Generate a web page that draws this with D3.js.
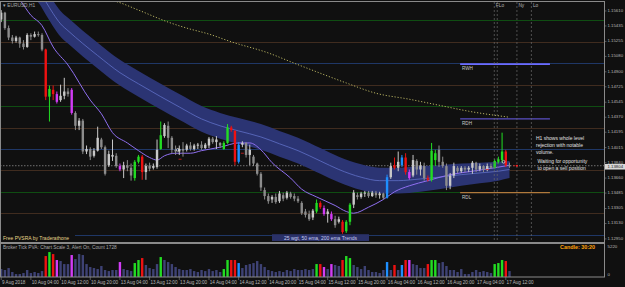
<!DOCTYPE html>
<html>
<head>
<meta charset="utf-8">
<title>EURUSD,H1 PVSRA</title>
<script src="https://cdn.jsdelivr.net/npm/d3@7"></script>
<style>
body { margin: 0; background: #101010; }
svg { display: block; }
text { font-family: "Liberation Sans", Arial, sans-serif; }
</style>
</head>
<body>
<svg width="625" height="287"></svg>
<script>

// H1 bars, 9 Aug 2018 20:00 .. 17 Aug 13:00
var open = [
  1.1551,1.1559,1.1541,1.1530,1.1526,1.1530,1.1523,1.1519,1.1533,1.1531,
  1.1534,1.1533,1.1516,1.1461,1.1469,1.1464,1.1457,1.1462,1.1467,1.1469,
  1.1442,1.1427,1.1433,1.1397,1.1400,1.1392,1.1398,1.1411,1.1402,1.1381,
  1.1391,1.1392,1.1380,1.1376,1.1381,1.1378,1.1366,1.1385,1.1391,1.1373,
  1.1380,1.1378,1.1379,1.1400,1.1415,1.1427,1.1413,1.1399,1.1397,1.1400,
  1.1399,1.1404,1.1400,1.1404,1.1405,1.1401,1.1404,1.1412,1.1408,1.1407,
  1.1400,1.1407,1.1425,1.1421,1.1385,1.1405,1.1407,1.1393,1.1391,1.1383,
  1.1371,1.1352,1.1345,1.1341,1.1344,1.1339,1.1346,1.1343,1.1348,1.1345,
  1.1342,1.1337,1.1327,1.1324,1.1320,1.1327,1.1337,1.1331,1.1324,1.1324,
  1.1318,1.1315,1.1315,1.1304,1.1315,1.1335,1.1346,1.1344,1.1348,1.1349,
  1.1345,1.1349,1.1346,1.1348,1.1343,1.1367,1.1381,1.1378,1.1381,1.1390,
  1.1373,1.1369,1.1386,1.1376,1.1380,1.1366,1.1364,1.1387,1.1399,1.1385,
  1.1380,1.1357,1.1369,1.1378,1.1374,1.1378,1.1376,1.1378,1.1384,1.1376,
  1.1380,1.1376,1.1380,1.1378,1.1385,1.1387,1.1397,1.1381];
var high = [
  1.1562,1.1560,1.1544,1.1533,1.1532,1.1531,1.1527,1.1535,1.1535,1.1537,
  1.1537,1.1535,1.1517,1.1474,1.1474,1.1467,1.1475,1.1483,1.1471,1.1471,
  1.1444,1.1436,1.1435,1.1404,1.1402,1.1401,1.1426,1.1413,1.1404,1.1398,
  1.1411,1.1395,1.1383,1.1385,1.1387,1.1383,1.1387,1.1393,1.1393,1.1383,
  1.1384,1.1383,1.1411,1.1432,1.1430,1.1432,1.1415,1.1404,1.1404,1.1408,
  1.1406,1.1408,1.1406,1.1407,1.1409,1.1407,1.1414,1.1414,1.1415,1.1408,
  1.1409,1.1429,1.1427,1.1422,1.1408,1.1409,1.1408,1.1405,1.1393,1.1384,
  1.1373,1.1355,1.1348,1.1346,1.1348,1.1351,1.1349,1.1351,1.1350,1.1348,
  1.1345,1.1339,1.1330,1.1328,1.1330,1.1341,1.1339,1.1334,1.1330,1.1327,
  1.1322,1.1321,1.1317,1.1317,1.1337,1.1352,1.1349,1.1350,1.1351,1.1351,
  1.1351,1.1351,1.1350,1.1349,1.1370,1.1384,1.1390,1.1397,1.1393,1.1395,
  1.1376,1.1393,1.1388,1.1385,1.1384,1.1369,1.1407,1.1399,1.1404,1.1391,
  1.1383,1.1372,1.1384,1.1380,1.1380,1.1380,1.1380,1.1386,1.1385,1.1383,
  1.1381,1.1383,1.1383,1.1388,1.1391,1.1419,1.1399,1.1384];
var low = [
  1.1548,1.1539,1.1527,1.1523,1.1524,1.1518,1.1516,1.1518,1.1527,1.1530,
  1.1531,1.1514,1.1457,1.1432,1.1457,1.1453,1.1455,1.1458,1.1461,1.1440,
  1.1422,1.1422,1.1394,1.1394,1.1387,1.1390,1.1397,1.1400,1.1369,1.1379,
  1.1386,1.1378,1.1374,1.1366,1.1374,1.1363,1.1363,1.1383,1.1364,1.1364,
  1.1374,1.1376,1.1377,1.1399,1.1413,1.1401,1.1395,1.1393,1.1393,1.1391,
  1.1397,1.1398,1.1398,1.1400,1.1399,1.1400,1.1401,1.1406,1.1400,1.1401,
  1.1399,1.1406,1.1420,1.1381,1.1383,1.1402,1.1390,1.1381,1.1380,1.1369,
  1.1351,1.1341,1.1336,1.1337,1.1336,1.1337,1.1339,1.1341,1.1342,1.1339,
  1.1337,1.1323,1.1320,1.1316,1.1317,1.1325,1.1330,1.1322,1.1314,1.1316,
  1.1308,1.1313,1.1301,1.1302,1.1311,1.1331,1.1341,1.1342,1.1344,1.1343,
  1.1344,1.1343,1.1342,1.1341,1.1342,1.1365,1.1376,1.1374,1.1379,1.1370,
  1.1364,1.1367,1.1370,1.1369,1.1363,1.1362,1.1362,1.1380,1.1379,1.1378,
  1.1352,1.1353,1.1366,1.1372,1.1372,1.1373,1.1373,1.1371,1.1373,1.1374,
  1.1373,1.1374,1.1377,1.1377,1.1383,1.1384,1.1379,1.1378];
var close = [
  1.1559,1.1541,1.1530,1.1526,1.1530,1.1523,1.1519,1.1533,1.1531,1.1534,
  1.1533,1.1516,1.1461,1.1470,1.1464,1.1455,1.1462,1.1467,1.1464,1.1442,
  1.1427,1.1433,1.1397,1.1400,1.1391,1.1398,1.1413,1.1402,1.1371,1.1394,
  1.1393,1.1380,1.1376,1.1381,1.1378,1.1369,1.1385,1.1391,1.1373,1.1380,
  1.1377,1.1380,1.1399,1.1416,1.1428,1.1413,1.1399,1.1397,1.1400,1.1398,
  1.1404,1.1400,1.1404,1.1405,1.1401,1.1405,1.1412,1.1408,1.1411,1.1404,
  1.1407,1.1425,1.1422,1.1385,1.1405,1.1407,1.1393,1.1399,1.1383,1.1371,
  1.1355,1.1345,1.1339,1.1344,1.1338,1.1348,1.1342,1.1349,1.1344,1.1342,
  1.1339,1.1325,1.1323,1.1318,1.1328,1.1337,1.1332,1.1324,1.1327,1.1318,
  1.1311,1.1318,1.1303,1.1315,1.1335,1.1349,1.1344,1.1348,1.1349,1.1345,
  1.1349,1.1346,1.1348,1.1343,1.1367,1.1380,1.1378,1.1385,1.1390,1.1373,
  1.1366,1.1387,1.1376,1.1381,1.1366,1.1364,1.1398,1.1395,1.1385,1.1380,
  1.1357,1.1369,1.1380,1.1374,1.1378,1.1376,1.1378,1.1384,1.1376,1.1380,
  1.1376,1.1380,1.1378,1.1386,1.1388,1.1397,1.1381,1.13804];
var volume = [
  1350,1180,1510,840,500,500,670,1180,670,840,
  670,1000,3530,4200,3860,2860,2690,2180,2180,3700,
  3020,3860,3700,2180,1680,1510,1340,1850,1180,1000,
  1180,1180,2520,1340,1180,1000,2350,2860,3190,2020,
  1510,1340,2180,3360,2860,2520,2180,1680,1340,1180,
  1180,1340,1000,840,1180,1000,1340,1000,1180,840,
  1340,2860,2860,2860,2350,1510,2020,2180,2350,2690,
  2180,1680,1180,1000,840,1000,840,1180,1000,1340,
  1180,1180,1340,1180,1340,2180,2180,1680,1340,2180,
  2020,1850,2860,3530,3190,2020,1680,1340,1850,1180,
  840,840,670,1180,2520,1180,2020,1180,2020,2860,
  2860,2180,2020,1510,1510,2180,2860,2860,2350,2520,
  1850,1180,1180,840,1340,500,500,840,1180,840,
  1000,840,670,2180,2350,2860,2690,1000];

// PVSRA bar classes (bar indexes)
var climaxBull = [13,36,37,43,60,61,85,93,94,116,117,133,134,135];
var climaxBear = [12,14,38,62,63,86,92,106,109,115,136];
var risingBull = [64,104,108];
var risingBear = [15,19,32,87,89,110];

// trend lines, sampled at bar indexes
var wgtBars = [3,5,8,11,14,18,24,27,30,34,37,40,42,44,47,51,54,59,64,67,70,73,78,81,85,90,93,95,99,103,106,110,115,121,127,133,137];
var wgt25 = [1.1583,1.1574,1.1556,1.1544,1.1519,1.1498,1.1457,1.1441,1.1419,1.1407,1.1398,1.1390,1.1387,1.1392,1.1395,1.1395,1.1398,1.1402,1.1407,1.1407,1.1399,1.1384,1.1366,1.1353,1.1344,1.1334,1.1327,1.1325,1.1332,1.1341,1.1350,1.1357,1.1363,1.1370,1.1374,1.1378,1.1381];
var emaBars = [8,10,12,14,16,18,22,26,32,37,43,48,54,59,64,70,75,80,86,91,97,102,107,113,118,124,129,134,137];
var ema50 = [1.1592,1.1586,1.1572,1.1558,1.1546,1.1538,1.1523,1.1509,1.1489,1.1476,1.1461,1.1449,1.1435,1.1427,1.1421,1.1414,1.1406,1.1398,1.1386,1.1376,1.1367,1.1363,1.1363,1.1365,1.1367,1.1370,1.1372,1.1374,1.1376];
var emaBand = [0.0015,0.0015,0.0015,0.0015,0.0015,0.0015,0.0015,0.0015,0.0015,0.0015,0.0015,0.0015,0.0015,0.0015,0.0015,0.0015,0.0015,0.0015,0.0015,0.0015,0.0015,0.0015,0.0015,0.0015,0.0014,0.0013,0.0012,0.0011,0.0010];
var slowBars = [28,31,37,45,50,56,62,72,79,85,93,101,110,118,126,137];
var ema200 = [1.1575,1.1572,1.1562,1.1548,1.1541,1.1534,1.1525,1.1512,1.1500,1.1490,1.1477,1.1465,1.1458,1.1451,1.1444,1.1437];

var priceTicks = [1.15610,1.15435,1.15255,1.15080,1.14900,1.14725,1.14545,1.14370,1.14195,1.14015,1.13840,1.13660,1.13485,1.13305,1.13130,1.12950];
var quarterLevels = [1.1550,1.1525,1.1500,1.1475,1.1450,1.1425,1.1400,1.1375,1.1350,1.1325,1.1300];
var timeLabels = ["9 Aug 2018","10 Aug 04:00","10 Aug 12:00","10 Aug 20:00","13 Aug 04:00","13 Aug 12:00","13 Aug 20:00","14 Aug 04:00","14 Aug 12:00","14 Aug 20:00","15 Aug 04:00","15 Aug 12:00","15 Aug 20:00","16 Aug 04:00","16 Aug 12:00","16 Aug 20:00","17 Aug 04:00","17 Aug 12:00"];

var rangeNames = ["RWH","RDH","RDL"];
var rangePrices = [1.1499,1.1435,1.1349];
var sessionBars = [132.9,133.7,139.0,142.9];
var sessionNames = ["F","Lo","Ny","Lo"];

var svg = d3.select("svg");

var x = d3.scaleLinear().domain([0, 137]).range([1.2, 509.5]);
var y = d3.scaleLinear().domain([1.12914, 1.15738]).range([242, 0]);
var yv = d3.scaleLinear().domain([0, 5220]).range([277, 246]);

function kind(i) {
  if (climaxBull.indexOf(i) >= 0) return "g";
  if (climaxBear.indexOf(i) >= 0) return "r";
  if (risingBull.indexOf(i) >= 0) return "b";
  if (risingBear.indexOf(i) >= 0) return "m";
  return "n";
}
var colors = { g: "#22dd22", r: "#ee1111", b: "#1e8fff", m: "#d23cf5" };

var bars = d3.range(open.length).map(function(i) {
  return { i: i, o: open[i], h: high[i], l: low[i], c: close[i], v: volume[i], k: kind(i) };
});
function candleColor(d) {
  if (d.k != "n") return colors[d.k];
  return d.c >= d.o ? "#c8c8c8" : "#8c8c8c";
}

svg.append("rect").attr("width", 625).attr("height", 287).attr("fill", "#101010");

svg.append("clipPath").attr("id", "mainClip")
  .append("rect").attr("x", 0).attr("y", 2).attr("width", 604).attr("height", 240);
var main = svg.append("g").attr("clip-path", "url(#mainClip)");

// quarter levels
main.selectAll(".ql").data(quarterLevels).enter().append("line")
  .attr("x1", 0).attr("x2", 604)
  .attr("y1", function(d) { return Math.round(y(d)) + 0.5; })
  .attr("y2", function(d) { return Math.round(y(d)) + 0.5; })
  .attr("stroke", function(d) {
    var r = Math.round(d * 10000) % 100;
    return r == 0 ? "#1f3766" : (r == 50 ? "#0f4d12" : "#402c1f");
  })
  .attr("stroke-width", 1);

// current price line
var last = close[close.length - 1];
main.append("line")
  .attr("x1", 0).attr("x2", 604)
  .attr("y1", y(last)).attr("y2", y(last))
  .attr("stroke", "#8a8a8a").attr("stroke-width", 0.8)
  .attr("stroke-dasharray", "1.5,1.5");

// ema band
var band = emaBars.map(function(b, k) { return { b: b, mid: ema50[k], h: emaBand[k] }; });
main.append("path").datum(band)
  .attr("fill", "#2b3473")
  .attr("d", d3.area()
    .x(function(d) { return x(d.b); })
    .y0(function(d) { return y(d.mid - d.h); })
    .y1(function(d) { return y(d.mid + d.h); })
    .curve(d3.curveMonotoneX));
main.append("path").datum(band)
  .attr("fill", "none").attr("stroke", "#5f70c8").attr("stroke-width", 0.8)
  .attr("d", d3.line()
    .x(function(d) { return x(d.b); })
    .y(function(d) { return y(d.mid); })
    .curve(d3.curveMonotoneX));

// 200 ema dotted
main.append("path").datum(slowBars.map(function(b, k) { return [b, ema200[k]]; }))
  .attr("fill", "none").attr("stroke", "#b5b060").attr("stroke-width", 1)
  .attr("stroke-dasharray", "1.2,1.8")
  .attr("d", d3.line()
    .x(function(d) { return x(d[0]); })
    .y(function(d) { return y(d[1]); })
    .curve(d3.curveMonotoneX));

// 25 wgt line
main.append("path").datum(wgtBars.map(function(b, k) { return [b, wgt25[k]]; }))
  .attr("fill", "none").attr("stroke", "#8f6ff0").attr("stroke-width", 1)
  .attr("d", d3.line()
    .x(function(d) { return x(d[0]); })
    .y(function(d) { return y(d[1]); })
    .curve(d3.curveMonotoneX));

// candles
main.selectAll(".wick").data(bars).enter().append("rect")
  .attr("x", function(d) { return x(d.i) - 0.5; })
  .attr("y", function(d) { return y(d.h); })
  .attr("width", 1)
  .attr("height", function(d) { return Math.max(1, y(d.l) - y(d.h)); })
  .attr("fill", candleColor);
main.selectAll(".body").data(bars).enter().append("rect")
  .attr("x", function(d) { return x(d.i) - 1.2; })
  .attr("y", function(d) { return y(Math.max(d.o, d.c)); })
  .attr("width", 2.4)
  .attr("height", function(d) { return Math.max(1, Math.abs(y(d.o) - y(d.c))); })
  .attr("fill", candleColor);

// range lines
var rangeColors = ["#6b6bff", "#5a4fc4", "#b07a3c"];
rangeNames.forEach(function(n, k) {
  var yy = y(rangePrices[k]);
  main.append("line")
    .attr("x1", x(123.7)).attr("x2", x(147.9))
    .attr("y1", yy).attr("y2", yy)
    .attr("stroke", rangeColors[k]).attr("stroke-width", k == 0 ? 1.6 : 1.2);
  main.append("text")
    .attr("x", x(124.2)).attr("y", yy + 6)
    .attr("font-size", 4.6).attr("fill", "#c8c8c8").text(n);
});

// session lines
sessionBars.forEach(function(b, k) {
  main.append("line")
    .attr("x1", x(b)).attr("x2", x(b))
    .attr("y1", 2).attr("y2", 242)
    .attr("stroke", "#6a6a6a").attr("stroke-width", 0.7)
    .attr("stroke-dasharray", "2,2");
  main.append("text")
    .attr("x", x(b) + 1.5).attr("y", 7)
    .attr("font-size", 4.8).attr("fill", "#b0b0b0").text(sessionNames[k]);
});

// markers
main.append("circle").attr("cx", x(47.6)).attr("cy", y(1.1399)).attr("r", 1.4)
  .attr("fill", "none").attr("stroke", "#e0e0e0").attr("stroke-width", 0.7);
main.append("circle").attr("cx", x(135.4)).attr("cy", y(1.1385)).attr("r", 1.4)
  .attr("fill", "none").attr("stroke", "#e0e0e0").attr("stroke-width", 0.7);
[[48.2, 1.1388], [65, 1.1395], [131, 1.1376]].forEach(function(m) {
  main.append("line").attr("x1", x(m[0]) - 1.5).attr("x2", x(m[0]) + 1.5)
    .attr("y1", y(m[1])).attr("y2", y(m[1]))
    .attr("stroke", "#dd2222").attr("stroke-width", 0.8);
});
main.append("line").attr("x1", x(138)).attr("x2", x(138.6))
  .attr("y1", y(last)).attr("y2", y(last)).attr("stroke", "#dd2222").attr("stroke-width", 0.8);
main.append("circle").attr("cx", x(139)).attr("cy", y(last)).attr("r", 1.1).attr("fill", "#ff2020");

// notes
var note1 = ["H1 shows whole level", "rejection with notable", "volume."];
var note2 = ["Waiting for opportunity", "to open a sell position"];
note1.forEach(function(t, k) {
  main.append("text").attr("x", 536).attr("y", 139.5 + k * 7)
    .attr("font-size", 5).attr("fill", "#e0e0e0").text(t);
});
note2.forEach(function(t, k) {
  main.append("text").attr("x", 537.5).attr("y", 162.8 + k * 6.8)
    .attr("font-size", 5).attr("fill", "#e0e0e0").text(t);
});

// labels inside main
main.append("text").attr("x", 3).attr("y", 7).attr("font-size", 4.8)
  .attr("fill", "#a8a8a8").text("\u25BE EURUSD,H1");
main.append("rect").attr("x", 1).attr("y", 234.5).attr("width", 74).attr("height", 6.5).attr("fill", "#101010");
main.append("text").attr("x", 3).attr("y", 239.6).attr("font-size", 5)
  .attr("fill", "#e6d78a").text("Free PVSRA by Traderathone");
main.append("rect").attr("x", 272).attr("y", 234.2).attr("width", 97).attr("height", 6.8).attr("fill", "#2a3168");
main.append("text").attr("x", 320.5).attr("y", 239.5).attr("font-size", 5)
  .attr("text-anchor", "middle").attr("fill", "#c8ccf0").text("25 wgt, 50 ema, 200 ema Trends");

// volume panel
svg.selectAll(".vol").data(bars).enter().append("rect")
  .attr("x", function(d) { return x(d.i) - 1.2; })
  .attr("y", function(d) { return yv(d.v); })
  .attr("width", 2.4)
  .attr("height", function(d) { return yv(0) - yv(d.v); })
  .attr("fill", function(d) { return d.k == "n" ? "#3e4274" : colors[d.k]; });
svg.append("text").attr("x", 3).attr("y", 249).attr("font-size", 4.8)
  .attr("fill", "#a8a8a8").text("Broker Tick PVA:  Chart Scale 3,  Alert On,  Count  1728");
svg.append("text").attr("x", 560).attr("y", 249.2).attr("font-size", 5.4)
  .attr("font-weight", "bold").attr("fill", "#ffa20a").text("Candle:  30:20");

// frames
svg.append("rect").attr("x", 0.5).attr("y", 1.5).attr("width", 604).attr("height", 241)
  .attr("fill", "none").attr("stroke", "#8a8a8a").attr("stroke-width", 1);
svg.append("rect").attr("x", 0.5).attr("y", 243.5).attr("width", 604).attr("height", 33.5)
  .attr("fill", "none").attr("stroke", "#8a8a8a").attr("stroke-width", 1);

// price axis
var axis = svg.append("g");
priceTicks.forEach(function(p) {
  axis.append("line").attr("x1", 604.5).attr("x2", 606.5)
    .attr("y1", y(p)).attr("y2", y(p)).attr("stroke", "#8a8a8a").attr("stroke-width", 0.6);
  axis.append("text").attr("x", 607.5).attr("y", y(p) + 1.0)
    .attr("font-size", 4.3).attr("fill", "#b8b8b8").text(d3.format(".5f")(p));
});
axis.append("rect").attr("x", 605).attr("y", y(last) - 1.8).attr("width", 20).attr("height", 5.6)
  .attr("fill", "#d8d8d8");
axis.append("text").attr("x", 607.5).attr("y", y(last) + 2.6)
  .attr("font-size", 4.3).attr("fill", "#202020").text(d3.format(".5f")(last));
[5220, 0].forEach(function(v) {
  axis.append("text").attr("x", 607.5).attr("y", yv(v) + (v ? 1.8 : -1.2))
    .attr("font-size", 4.4).attr("fill", "#b8b8b8").text(v);
});

// time axis
timeLabels.forEach(function(t, k) {
  var xx = x(k * 8);
  axis.append("line").attr("x1", xx).attr("x2", xx).attr("y1", 277).attr("y2", 280)
    .attr("stroke", "#8a8a8a").attr("stroke-width", 0.6);
  axis.append("text").attr("x", xx + 0.8).attr("y", 283.6)
    .attr("font-size", 4.6).attr("fill", "#b8b8b8").text(t);
});

</script>
</body>
</html>
